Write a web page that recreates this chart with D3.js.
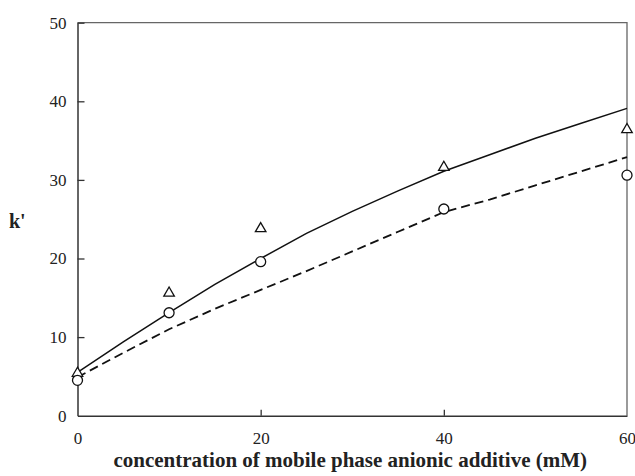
<!DOCTYPE html>
<html>
<head>
<meta charset="utf-8">
<script src="https://cdn.jsdelivr.net/npm/d3@7"></script>
<style>
  html, body { margin: 0; padding: 0; background: #fff; }
  svg { display: block; }
  text { font-family: "Liberation Serif", "DejaVu Serif", serif; fill: #222; }
</style>
</head>
<body>
<script>
// Measured retention factors
const concentrations = [0, 10, 20, 40, 60];
const kTriangle = [5.4, 15.6, 23.8, 31.6, 36.4];
const kCircle = [4.5, 13.1, 19.6, 26.3, 30.6];

// Model curves
const modelX = [0, 5, 10, 15, 20, 25, 30, 35, 40, 45, 50, 55, 60];
const modelSolid = [5.5, 9.4, 13.1, 16.7, 20.0, 23.2, 26.0, 28.6, 31.1, 33.2, 35.3, 37.2, 39.1];
const modelDashed = [4.9, 8.0, 11.0, 13.6, 16.0, 18.4, 20.9, 23.4, 25.9, 27.5, 29.3, 31.1, 32.9];

const xTicks = [0, 20, 40, 60];
const yTicks = [0, 10, 20, 30, 40, 50];

const W = 635, H = 476;
const m = { left: 77.5, right: 8, top: 22.7, bottom: 60.3 };

const svg = d3.select("body").append("svg").attr("width", W).attr("height", H);

const x = d3.scaleLinear().domain([0, 60]).range([m.left, W - m.right]);
const y = d3.scaleLinear().domain([0, 50]).range([H - m.bottom, m.top]);

// frame: top and right edges
svg.append("path")
  .attr("d", `M${x(0)},${y(50)}H${x(60)}V${y(0)}`)
  .attr("fill", "none").attr("stroke", "#666").attr("stroke-width", 1.3);

// axes with inward ticks
const gx = svg.append("g").attr("transform", `translate(0,${y(0)})`)
  .call(d3.axisBottom(x).tickValues(xTicks).tickSize(-6).tickPadding(16.5).tickSizeOuter(0));
const gy = svg.append("g").attr("transform", `translate(${x(0)},0)`)
  .call(d3.axisLeft(y).tickValues(yTicks).tickSize(-7).tickPadding(11).tickSizeOuter(0));

[gx, gy].forEach(g => {
  g.select(".domain").attr("stroke", "#333").attr("stroke-width", 1.5);
  g.selectAll(".tick line").attr("stroke", "#333").attr("stroke-width", 1.3);
  g.selectAll(".tick text").attr("font-family", "Liberation Serif, serif")
    .attr("font-size", 17).attr("fill", "#222");
});
gy.selectAll(".tick").filter(d => d === 0).select("line").remove();
gx.selectAll(".tick").filter(d => d === 0 || d === 60).select("line").remove();

// axis titles
svg.append("text")
  .attr("x", (x(0) + x(60)) / 2 - 2).attr("y", 467)
  .attr("text-anchor", "middle")
  .attr("font-size", 21).attr("font-weight", "bold")
  .text("concentration of mobile phase anionic additive (mM)");

svg.append("text")
  .attr("x", 9).attr("y", 228)
  .attr("font-size", 20).attr("font-weight", "bold")
  .text("k'");

// model curves
const line = d3.line().x((d, i) => x(modelX[i])).y(d => y(d));
svg.append("path").datum(modelSolid).attr("d", line)
  .attr("fill", "none").attr("stroke", "#111").attr("stroke-width", 1.5);
svg.append("path").datum(modelDashed).attr("d", line)
  .attr("fill", "none").attr("stroke", "#111").attr("stroke-width", 1.8)
  .attr("stroke-dasharray", "9,5");

// triangle markers
const tri = d3.symbol().type(d3.symbolTriangle).size(48);
svg.append("g").selectAll("path").data(kTriangle).join("path")
  .attr("transform", (d, i) => `translate(${x(concentrations[i])},${y(d)})`)
  .attr("d", tri)
  .attr("fill", "#fff").attr("stroke", "#111").attr("stroke-width", 1.3);

// circle markers
svg.append("g").selectAll("circle").data(kCircle).join("circle")
  .attr("cx", (d, i) => x(concentrations[i]))
  .attr("cy", d => y(d))
  .attr("r", 5)
  .attr("fill", "#fff").attr("stroke", "#111").attr("stroke-width", 1.3);
</script>
</body>
</html>
